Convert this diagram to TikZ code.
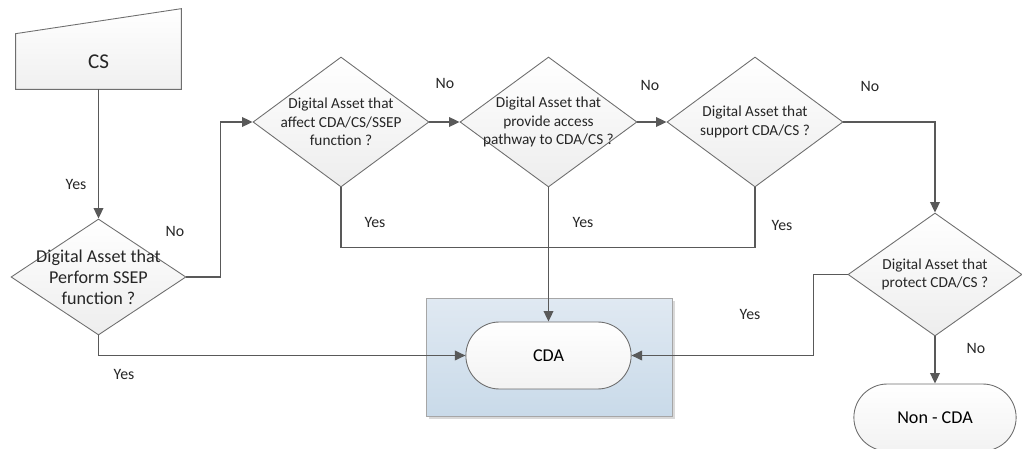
\documentclass[tikz,border=0pt]{standalone}
\usepackage{fontspec}
\setmainfont{Carlito}
\usetikzlibrary{shapes.geometric,shapes.misc,arrows.meta,positioning,calc,backgrounds,shadows}

\definecolor{linegray}{HTML}{595959}
\definecolor{edgegray}{HTML}{6E6E6E}
\definecolor{boxtop}{HTML}{E0E9F2}
\definecolor{boxbot}{HTML}{C9DAE9}

\tikzset{
  conn/.style={draw=linegray, line width=0.85pt},
  flow/.style={conn, -{Triangle[length=6pt,width=5.5pt]}},
  decision/.style={diamond, draw=edgegray, line width=0.5pt, top color=white, bottom color=gray!14, inner sep=0pt},
  endbox/.style={rounded rectangle, draw=edgegray, line width=0.5pt, top color=white, bottom color=gray!10,
    minimum width=3.54cm, minimum height=1.34cm, font=\fontsize{10.3}{12}\selectfont},
  qtext/.style={align=center, font=\fontsize{8.7}{10.5}\selectfont, text=black!85},
  answer/.style={font=\fontsize{9}{11}\selectfont, text=black!85},
}

\begin{document}
\begin{tikzpicture}[x=0.02cm, y=-0.02cm]
\useasboundingbox (0,0) rectangle (1022,449);

% start box
\node[minimum width=3.3cm, minimum height=1.1cm, font=\fontsize{12}{14}\selectfont, text=black!85] (cs) at (98.5,61.5) {CS};
\begin{scope}[on background layer]
\draw[draw=edgegray, line width=0.5pt, top color=white, bottom color=gray!12]
  (cs.south west) -- (cs.north west) -- ($(cs.north east)+(0,0.5cm)$) -- (cs.south east) -- cycle;
\end{scope}

% decisions
\node[decision, minimum width=3.5cm, minimum height=2.32cm] (d1) at (98.5,277) {};
\node[qtext, font=\fontsize{10.3}{12}\selectfont] (t1) at (d1) {Digital Asset that\\Perform SSEP\\function ?};
\node[decision, minimum width=3.52cm, minimum height=2.6cm] (d2) at (341,122) {};
\node[qtext] (t2) at (d2) {Digital Asset that\\affect CDA/CS/SSEP\\function ?};
\node[decision, minimum width=3.54cm, minimum height=2.6cm] (d3) at (548.5,122) {};
\node[qtext] (t3) at (d3) {Digital Asset that\\provide access\\pathway to CDA/CS ?};
\node[decision, minimum width=3.52cm, minimum height=2.6cm] (d4) at (755,122) {};
\node[qtext] (t4) at (d4) {Digital Asset that\\support CDA/CS ?};
\node[decision, minimum width=3.48cm, minimum height=2.46cm] (d5) at (935,274.5) {};
\node[qtext] (t5) at (d5) {Digital Asset that\\protect CDA/CS ?};

% results
\node[draw=gray!70, line width=0.5pt, top color=boxtop, bottom color=boxbot, minimum width=4.92cm, minimum height=2.36cm,
  drop shadow={shadow xshift=1.5pt, shadow yshift=-1.5pt, fill=gray!30, opacity=1}] (cdabox) at (549,357) {};
\node[endbox] (cda) at (548.5,355.5) {CDA};
\node[endbox, minimum width=3.48cm] (noncda) at (935,417.5) {Non - CDA};

% connectors
\draw[flow] (cs.south) -- (d1.north);
\draw[flow] (d1.east) -- ++(34,0) |- (d2.west);
\draw[flow] (d1.south) |- (cda.west);
\draw[flow] (d2.east) -- (d3.west);
\draw[flow] (d3.east) -- (d4.west);
\draw[flow] (d4.east) -| (d5.north);
\draw[conn] (d2.south) -- ++(0,60) -| (d4.south);
\draw[flow] (d3.south) -- (cda.north);
\draw[flow] (d5.west) -- ++(-34,0) |- (cda.east);
\draw[flow] (d5.south) -- (noncda.north);

% labels
\node[answer] (yes1) at (76,184) {Yes};
\node[answer] (no1) at (175,231) {No};
\node[answer] (yes2) at (124,374) {Yes};
\node[answer] (no2) at (445,83) {No};
\node[answer] (no3) at (650,85) {No};
\node[answer] (no4) at (870,86) {No};
\node[answer] (yes3) at (375,222) {Yes};
\node[answer] (yes4) at (583,222) {Yes};
\node[answer] (yes5) at (782,225) {Yes};
\node[answer] (yes6) at (750,314) {Yes};
\node[answer] (no5) at (976,348) {No};
\end{tikzpicture}
\end{document}
